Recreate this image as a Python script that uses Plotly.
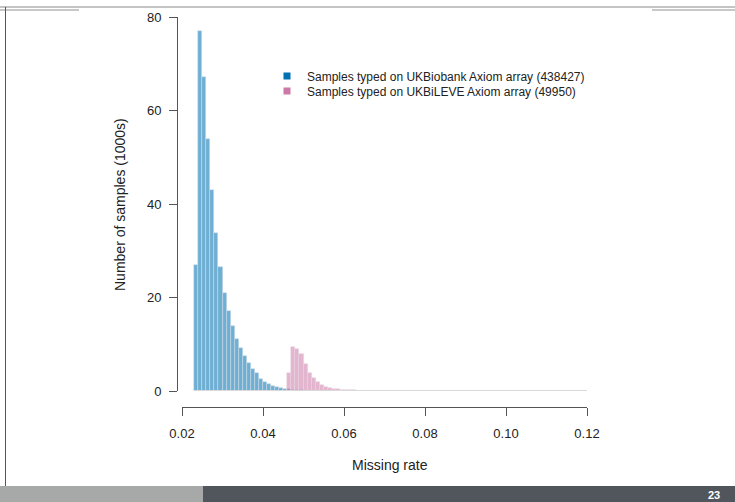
import plotly.graph_objects as go

# ---- data (counts in 1000s, histogram bins of width 0.001) ----
bin_width = 0.001
blue_start = 0.023
blue_counts = [27.0, 76.9, 67.2, 53.8, 43.0, 33.9, 26.6, 21.0, 17.1, 14.0, 11.2,
               9.1, 7.5, 5.9, 4.8, 3.9, 2.6, 2.0, 1.5, 1.1, 0.85, 0.6, 0.5,
               0.35, 0.25, 0.18, 0.12, 0.08]
pink_start = 0.046
pink_counts = [3.9, 9.5, 8.9, 7.9, 5.7, 3.9, 2.7, 1.9, 1.3, 0.9, 0.6, 0.45,
               0.35, 0.25, 0.2, 0.15, 0.12, 0.1, 0.08, 0.06, 0.05, 0.04, 0.03,
               0.03, 0.02, 0.02, 0.02, 0.01]
hist_end = 0.12
blue_name = "Samples typed on UKBiobank Axiom array (438427)"
pink_name = "Samples typed on UKBiLEVE Axiom array (49950)"
x_ticks = [0.02, 0.04, 0.06, 0.08, 0.10, 0.12]
x_tick_labels = ["0.02", "0.04", "0.06", "0.08", "0.10", "0.12"]
y_ticks = [0, 20, 40, 60, 80]
x_title = "Missing rate"
y_title = "Number of samples (1000s)"
page_number = "23"

blue_x = [blue_start + (i + 0.5) * bin_width for i in range(len(blue_counts))]
pink_x = [pink_start + (i + 0.5) * bin_width for i in range(len(pink_counts))]

W, H = 735, 502
BLUE = "#0072B2"
PINK = "#CC79A7"
FONT = "Liberation Sans, Arial, Helvetica, sans-serif"

def px(x):
    return x / W

def py(y):
    return 1 - y / H

fig = go.Figure()

# zero baseline of histogram (R draws borders of empty bins)
fig.add_trace(go.Scatter(x=[blue_start, hist_end], y=[0, 0], mode="lines",
                         line=dict(color="#d9d9d9", width=2),
                         showlegend=False, hoverinfo="skip"))
fig.add_trace(go.Bar(x=blue_x, y=blue_counts, width=bin_width,
                     marker=dict(color="rgba(0,114,178,0.57)",
                                 line=dict(color="rgba(215,225,235,0.9)", width=0.6)),
                     showlegend=False))
fig.add_trace(go.Bar(x=pink_x, y=pink_counts, width=bin_width,
                     marker=dict(color="rgba(204,121,167,0.55)",
                                 line=dict(color="rgba(235,220,230,0.9)", width=0.6)),
                     showlegend=False))
# legend entries (one legend per row, to match the tight row spacing)
fig.add_trace(go.Scatter(x=[None], y=[None], mode="markers", name=blue_name,
                         legend="legend",
                         marker=dict(symbol="square", size=7, color=BLUE)))
fig.add_trace(go.Scatter(x=[None], y=[None], mode="markers", name=pink_name,
                         legend="legend2",
                         marker=dict(symbol="square", size=7, color=PINK)))

x0, x1 = 182, 587
y0, y1 = 17, 391

legend_style = dict(xanchor="left", yanchor="middle",
                    bgcolor="rgba(0,0,0,0)", font=dict(size=12, color="#222"),
                    itemwidth=30, borderwidth=0)

fig.update_layout(
    width=W, height=H, autosize=False,
    margin=dict(l=0, r=0, t=0, b=0, pad=0, autoexpand=False),
    paper_bgcolor="white", plot_bgcolor="white",
    barmode="overlay", bargap=0,
    font=dict(family=FONT, size=13, color="#222"),
    xaxis=dict(domain=[px(x0), px(x1)], range=[0.02, 0.12],
               anchor="free", position=py(407), automargin=False,
               tickvals=x_ticks, ticktext=x_tick_labels,
               showline=True, linecolor="#555", linewidth=1,
               ticks="outside", ticklen=8, tickcolor="#555", tickwidth=1,
               ticklabelstandoff=6,
               showgrid=False, zeroline=False,
               tickfont=dict(size=13)),
    yaxis=dict(domain=[py(y1), py(y0)], range=[0, 80],
               anchor="free", position=px(177), automargin=False,
               tickvals=y_ticks,
               showline=True, linecolor="#555", linewidth=1,
               ticks="outside", ticklen=8, tickcolor="#555", tickwidth=1,
               ticklabelstandoff=5,
               showgrid=False, zeroline=False,
               tickfont=dict(size=13)),
    legend=dict(x=px(267), y=py(76), **legend_style),
    legend2=dict(x=px(267), y=py(91), **legend_style),
    shapes=[
        # slide frame
        dict(type="line", xref="paper", yref="paper", x0=0, x1=1,
             y0=py(7), y1=py(7), line=dict(color="#8a8a8a", width=1.2)),
        dict(type="line", xref="paper", yref="paper", x0=0, x1=px(79),
             y0=py(10), y1=py(10), line=dict(color="#c8c8c8", width=2)),
        dict(type="line", xref="paper", yref="paper", x0=px(652), x1=1,
             y0=py(10), y1=py(10), line=dict(color="#c8c8c8", width=2)),
        dict(type="line", xref="paper", yref="paper", x0=px(5.5), x1=px(5.5),
             y0=py(7), y1=py(486), line=dict(color="#555", width=1)),
        dict(type="rect", xref="paper", yref="paper", x0=0, x1=px(203),
             y0=0, y1=py(486), line=dict(width=0), fillcolor="#a6a9a7"),
        dict(type="rect", xref="paper", yref="paper", x0=px(203), x1=1,
             y0=0, y1=py(486), line=dict(width=0), fillcolor="#51565c"),
    ],
    annotations=[
        dict(text=x_title, xref="paper", yref="paper",
             x=px(390), y=py(465), xanchor="center", yanchor="middle",
             showarrow=False, font=dict(size=14, color="#222")),
        dict(text=y_title, xref="paper", yref="paper", textangle=-90,
             x=px(120), y=py(204), xanchor="center", yanchor="middle",
             showarrow=False, font=dict(size=14, color="#222")),
        dict(text="<b>" + page_number + "</b>", xref="paper", yref="paper",
             x=px(722), y=py(495), xanchor="right", yanchor="middle",
             showarrow=False, font=dict(size=11, color="white")),
    ],
)

fig.write_html("out.html",
               config={"displayModeBar": False},
               post_script="document.body.style.margin='0px';")
